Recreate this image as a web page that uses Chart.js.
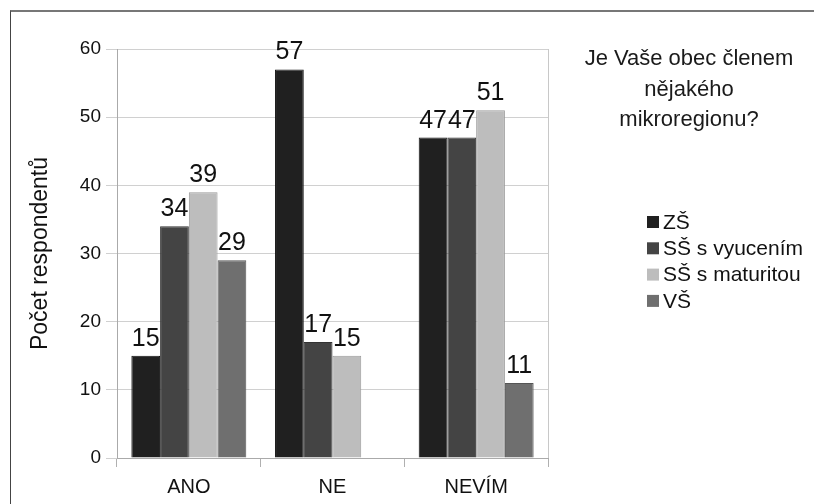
<!DOCTYPE html>
<html>
<head>
<meta charset="utf-8">
<script src="https://cdn.jsdelivr.net/npm/chart.js@4.4.1/dist/chart.umd.min.js"></script>
<style>
  html, body { margin: 0; padding: 0; background: #fff; }
  #wrap { position: relative; width: 814px; height: 504px; overflow: hidden; }
  #frame { position: absolute; left: 10px; top: 10px; width: 900px; height: 600px;
           border-left: 1px solid #444; border-top: 2px solid #777; }
  #chart { position: absolute; left: 0; top: 0; }
</style>
</head>
<body>
<div id="wrap">
  <div id="frame"></div>
  <canvas id="chart" width="814" height="504"></canvas>
</div>
<script>
const categories = ['ANO', 'NE', 'NEVÍM'];
const seriesNames = ['ZŠ', 'SŠ s vyucením', 'SŠ s maturitou', 'VŠ'];
const zsValues = [15, 57, 47];
const ssVyucValues = [34, 17, 47];
const ssMaturValues = [39, 15, 51];
const vsValues = [29, null, 11];
const titleLines = ['Je Vaše obec členem', 'nějakého', 'mikroregionu?'];
const yAxisTitle = 'Počet respondentů';

const fillColors = ['#202020', '#444444', '#bdbdbd', '#6f6f6f'];
const edgeColors = ['#111111', '#333333', '#9a9a9a', '#555555'];
const FONT = '"Liberation Sans", Arial, sans-serif';

// numbers above the bars
const valueLabels = {
  id: 'valueLabels',
  afterDatasetsDraw(chart) {
    const { ctx } = chart;
    ctx.save();
    ctx.font = '25px ' + FONT;
    ctx.fillStyle = '#111';
    ctx.textAlign = 'center';
    ctx.textBaseline = 'alphabetic';
    chart.data.datasets.forEach((ds, i) => {
      chart.getDatasetMeta(i).data.forEach((bar, j) => {
        const v = ds.data[j];
        if (v == null) return;
        ctx.fillText(String(v), bar.x, bar.y - 10);
      });
    });
    ctx.restore();
  },
};

// title, legend and right edge of the plot
const sidePanel = {
  id: 'sidePanel',
  afterDraw(chart) {
    const { ctx, chartArea } = chart;
    ctx.save();
    ctx.strokeStyle = '#c8c8c8';
    ctx.lineWidth = 1;
    ctx.beginPath();
    ctx.moveTo(Math.round(chartArea.right) + 0.5, chartArea.top);
    ctx.lineTo(Math.round(chartArea.right) + 0.5, chartArea.bottom);
    ctx.stroke();

    ctx.fillStyle = '#1a1a1a';
    ctx.font = '22px ' + FONT;
    ctx.textAlign = 'center';
    ctx.textBaseline = 'alphabetic';
    titleLines.forEach((line, i) => ctx.fillText(line, 689, 65 + i * 30.5));

    ctx.font = '21px ' + FONT;
    ctx.textAlign = 'left';
    ctx.textBaseline = 'middle';
    chart.data.datasets.forEach((ds, i) => {
      const cy = 222 + i * 26.3;
      ctx.fillStyle = ds.backgroundColor;
      ctx.fillRect(647, cy - 6, 12, 12);
      ctx.fillStyle = '#111';
      ctx.fillText(ds.label, 663, cy + 1);
    });
    ctx.restore();
  },
};

const seriesValues = [zsValues, ssVyucValues, ssMaturValues, vsValues];

new Chart(document.getElementById('chart'), {
  type: 'bar',
  data: {
    labels: categories,
    datasets: seriesNames.map((name, i) => ({
      label: name,
      data: seriesValues[i],
      backgroundColor: fillColors[i],
      borderColor: edgeColors[i],
      borderWidth: 1,
      categoryPercentage: 0.8,
      barPercentage: 1.0,
    })),
  },
  options: {
    responsive: false,
    animation: false,
    layout: { padding: { top: 49, right: 266, bottom: 0, left: 0 } },
    plugins: {
      legend: { display: false },
      title: { display: false },
      tooltip: { enabled: false },
    },
    scales: {
      x: {
        grid: { display: true, drawOnChartArea: false, drawTicks: true, tickLength: 9, color: '#b0b0b0', offset: true },
        border: { color: '#aaaaaa' },
        ticks: { font: { family: FONT, size: 20 }, color: '#111', padding: 8 },
        afterFit: (s) => { s.height = 46; },
      },
      y: {
        min: 0,
        max: 60,
        ticks: { stepSize: 10, font: { family: FONT, size: 19 }, color: '#111', padding: 5 },
        grid: { color: '#d0d0d0', tickLength: 11 },
        border: { color: '#aaaaaa' },
        title: {
          display: true,
          text: yAxisTitle,
          font: { family: FONT, size: 23 },
          color: '#111',
          padding: { top: 27, bottom: 0 },
        },
        afterFit: (s) => { s.width = 117; },
      },
    },
  },
  plugins: [valueLabels, sidePanel],
});
</script>
</body>
</html>
